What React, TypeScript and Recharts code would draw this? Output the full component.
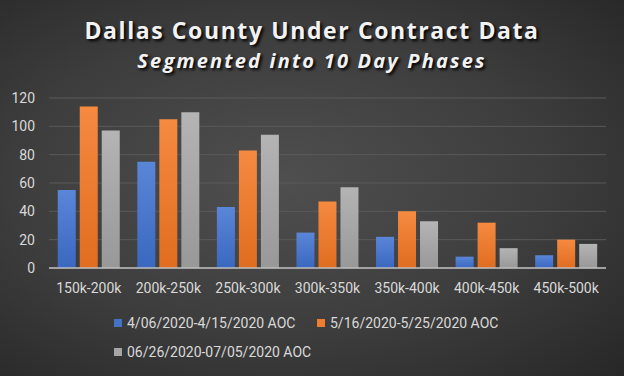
import React from "react";
import { BarChart, Bar, XAxis, YAxis, CartesianGrid } from "recharts";

const categories = ["150k-200k", "200k-250k", "250k-300k", "300k-350k", "350k-400k", "400k-450k", "450k-500k"];
const aprilPhase = [55, 75, 43, 25, 22, 8, 9];
const mayPhase = [114, 105, 83, 47, 40, 32, 20];
const julyPhase = [97, 110, 94, 57, 33, 14, 17];
const seriesNames = ["4/06/2020-4/15/2020 AOC", "5/16/2020-5/25/2020 AOC", "06/26/2020-07/05/2020 AOC"];
const seriesColors = ["#4472c4", "#ed7d31", "#a5a5a5"];
const yTicks = [0, 20, 40, 60, 80, 100, 120];

const data = categories.map((c, i) => ({
  range: c,
  a: aprilPhase[i],
  b: mayPhase[i],
  c: julyPhase[i],
}));

const labelFont = "Roboto, sans-serif";

// legend item anchors (left of square, vertical centre)
const legendSpots = [
  { left: 114, mid: 323 },
  { left: 317, mid: 323 },
  { left: 114, mid: 352 },
];

export default function App() {
  return (
    <div
      style={{
        position: "absolute",
        left: 0,
        top: 0,
        width: 624,
        height: 376,
        overflow: "hidden",
        background: "radial-gradient(ellipse at 45% 48%, #4f4f4f 0%, #3d3d3d 55%, #272727 100%)",
      }}
    >
      <div
        style={{
          position: "absolute",
          top: 14,
          width: 624,
          textAlign: "center",
          fontFamily: "'Open Sans', sans-serif",
          fontWeight: 700,
          fontSize: 23,
          letterSpacing: 1.6,
          lineHeight: "32px",
          color: "#f2f2f2",
          textShadow: "2px 2px 3px #000",
        }}
      >
        Dallas County Under Contract Data
      </div>
      <div
        style={{
          position: "absolute",
          top: 46,
          width: 624,
          textAlign: "center",
          fontFamily: "'Open Sans', sans-serif",
          fontWeight: 700,
          fontStyle: "italic",
          fontSize: 20,
          letterSpacing: 2.2,
          lineHeight: "30px",
          color: "#f2f2f2",
          textShadow: "2px 2px 3px #000",
        }}
      >
        Segmented into 10 Day Phases
      </div>
      <BarChart
        width={624}
        height={376}
        data={data}
        margin={{ top: 98, right: 18, bottom: 78, left: 0 }}
        barCategoryGap="11%"
        barGap={4}
        style={{ position: "absolute", left: 0, top: 0 }}
      >
        <defs>
          <linearGradient id="gBlue" x1="0" y1="0" x2="0" y2="1">
            <stop offset="0%" stopColor="#5a86d8" />
            <stop offset="100%" stopColor="#3a68c0" />
          </linearGradient>
          <linearGradient id="gOrange" x1="0" y1="0" x2="0" y2="1">
            <stop offset="0%" stopColor="#f58a40" />
            <stop offset="100%" stopColor="#e06d20" />
          </linearGradient>
          <linearGradient id="gGray" x1="0" y1="0" x2="0" y2="1">
            <stop offset="0%" stopColor="#b4b4b4" />
            <stop offset="100%" stopColor="#989898" />
          </linearGradient>
        </defs>
        <CartesianGrid vertical={false} stroke="#5a5a5a" strokeWidth={1} />
        <XAxis
          dataKey="range"
          stroke="#bfbfbf"
          strokeWidth={1.5}
          tickLine={false}
          tick={{ fill: "#d9d9d9", fontSize: 14, fontFamily: labelFont }}
          tickMargin={9}
          interval={0}
        />
        <YAxis
          domain={[0, 120]}
          ticks={yTicks}
          width={49}
          axisLine={false}
          tickLine={false}
          tick={{ fill: "#d9d9d9", fontSize: 14, fontFamily: labelFont }}
          tickMargin={8}
        />
        <Bar dataKey="a" name={seriesNames[0]} fill="url(#gBlue)" isAnimationActive={false} />
        <Bar dataKey="b" name={seriesNames[1]} fill="url(#gOrange)" isAnimationActive={false} />
        <Bar dataKey="c" name={seriesNames[2]} fill="url(#gGray)" isAnimationActive={false} />
      </BarChart>
      {seriesNames.map((name, i) => (
        <div
          key={name}
          style={{
            position: "absolute",
            left: legendSpots[i].left,
            top: legendSpots[i].mid - 9,
            height: 18,
            display: "flex",
            alignItems: "center",
            fontFamily: labelFont,
            fontSize: 14,
            color: "#d9d9d9",
            whiteSpace: "nowrap",
          }}
        >
          <span style={{ width: 8, height: 8, background: seriesColors[i], marginRight: 5, display: "inline-block" }} />
          {name}
        </div>
      ))}
    </div>
  );
}
